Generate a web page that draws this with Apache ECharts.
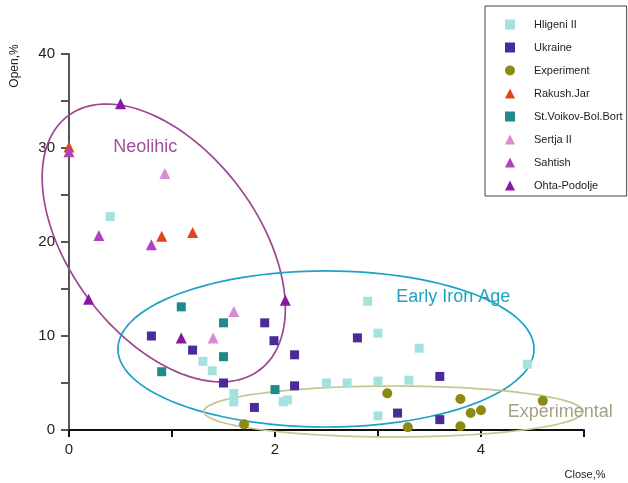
<!DOCTYPE html>
<html><head><meta charset="utf-8">
<script src="https://cdn.jsdelivr.net/npm/echarts@6/dist/echarts.min.js"></script>
<style>html,body{margin:0;padding:0;background:#fff}#c{width:628px;height:483px}</style>
</head><body><div id="c"></div>
<script>
// ---- data ----
const seriesNames = ['Hligeni II','Ukraine','Experiment','Rakush.Jar','St.Voikov-Bol.Bort','Sertja II','Sahtish','Ohta-Podolje'];
const hligeni = [[0.40,22.7],[1.30,7.3],[1.39,6.3],[1.60,3.9],[1.60,3.0],[2.08,3.0],[2.12,3.2],[2.50,5.0],[2.70,5.0],[2.90,13.7],[3.00,10.3],[3.00,5.2],[3.00,1.5],[3.30,5.3],[3.40,8.7],[4.45,7.0]];
const ukraine = [[0.80,10.0],[1.20,8.5],[1.50,5.0],[1.80,2.4],[1.90,11.4],[1.99,9.5],[2.19,8.0],[2.19,4.7],[2.80,9.8],[3.19,1.8],[3.60,5.7],[3.60,1.1]];
const experiment = [[1.70,0.6],[3.09,3.9],[3.29,0.3],[3.80,3.3],[3.80,0.4],[3.90,1.8],[4.00,2.1],[4.60,3.1]];
const rakush = [[0.00,30.1],[0.90,20.6],[1.20,21.0]];
const voikov = [[0.90,6.2],[1.09,13.1],[1.50,11.4],[1.50,7.8],[2.00,4.3]];
const sertja = [[0.93,27.3],[1.40,9.8],[1.60,12.6]];
const sahtish = [[0.00,29.6],[0.29,20.7],[0.80,19.7]];
const ohta = [[0.50,34.7],[0.19,13.9],[1.09,9.8],[2.10,13.8]];
const seriesData = [hligeni, ukraine, experiment, rakush, voikov, sertja, sahtish, ohta];

const xTicks = [0,1,2,3,4,5];
const yTicks = [0,5,10,15,20,25,30,35,40];

// grouping ellipses (data units): centre, two half-axis vectors, label anchor
const regionNames = ['Neolihic','Early Iron Age','Experimental'];
const regionCenters = [[0.92,19.9],[2.495,8.62],[3.15,1.97]];
const regionAxisU = [[0.92,-13.6],[2.02,0],[1.84,0]];
const regionAxisV = [[-0.74,-5.8],[0,8.3],[0,2.71]];
const regionLabelAt = [[0.74,30.1],[3.73,14.1],[4.77,1.9]];

// ---- styles ----
const symbols = ['rect','rect','circle','triangle','rect','triangle','triangle','triangle'];
const sizes = [9,9,10,11,9,11,11,11];
const colors = ['#a3e2df','#4b2b9c','#8c8a12','#e0441a','#1f8a8a','#d98bd8','#b042c0','#8a16a8'];
const regionColors = ['#9c4890','#1ea2c6','#c6c690'];
const regionTextColors = ['#a0509c','#22a2c2','#a2a284'];

const chart = echarts.init(document.getElementById('c'), null, {renderer:'canvas'});
const FONT = 'Liberation Sans, Arial, sans-serif';

const series = seriesNames.map((n,i)=>({
  name:n, type:'scatter', data:seriesData[i], symbol:symbols[i], symbolSize:sizes[i],
  itemStyle:{color:colors[i], opacity:1}, z:3
}));

series.unshift({
  type:'custom', name:'regions', z:2, silent:true,
  data: regionCenters.map((c,i)=>[c[0],c[1],i]),
  renderItem:function(params, api){
    const i = params.dataIndex;
    const c = regionCenters[i], u = regionAxisU[i], v = regionAxisV[i];
    const pts = [];
    const N = 120;
    for(let k=0;k<N;k++){
      const t = 2*Math.PI*k/N;
      pts.push(api.coord([c[0]+Math.cos(t)*u[0]+Math.sin(t)*v[0], c[1]+Math.cos(t)*u[1]+Math.sin(t)*v[1]]));
    }
    const lp = api.coord(regionLabelAt[i]);
    return {type:'group', children:[
      {type:'polygon', shape:{points:pts}, style:{fill:'none', stroke:regionColors[i], lineWidth:1.7}},
      {type:'text', x:lp[0], y:lp[1], style:{text:regionNames[i], fill:regionTextColors[i], font:'18px '+FONT, align:'center', verticalAlign:'middle'}}
    ]};
  }
});

chart.setOption({
  animation:false,
  backgroundColor:'#fff',
  grid:{left:69, right:44, top:54, bottom:53, containLabel:false},
  xAxis:{type:'value', min:xTicks[0], max:xTicks[xTicks.length-1], interval:1,
    axisLine:{onZero:false, lineStyle:{color:'#111', width:2}},
    axisTick:{length:7, lineStyle:{color:'#111', width:2}},
    axisLabel:{formatter:v=>(v%2===0?String(v):''), fontSize:15, color:'#222', fontFamily:FONT, margin:12},
    splitLine:{show:false}},
  yAxis:{type:'value', min:yTicks[0], max:yTicks[yTicks.length-1], interval:5,
    axisLine:{show:true, onZero:false, lineStyle:{color:'#555', width:2}},
    axisTick:{show:true, length:8, lineStyle:{color:'#555', width:2}},
    axisLabel:{formatter:v=>(v%10===0?String(v):''), fontSize:15, color:'#222', fontFamily:FONT, margin:14},
    splitLine:{show:false}},
  legend:{data:seriesNames, orient:'vertical', left:485, top:6, itemWidth:10, itemHeight:10, itemGap:12,
    padding:[13,4,5,20], borderColor:'#444', borderWidth:1,
    textStyle:{fontSize:11, color:'#222', fontFamily:FONT, padding:[0,0,0,14]}},
  graphic:[
    {type:'text', x:15, y:66, rotation:Math.PI/2, style:{text:'Open,%', font:'12px '+FONT, fill:'#222', align:'center', verticalAlign:'middle'}},
    {type:'text', x:585, y:475, style:{text:'Close,%', font:'11px '+FONT, fill:'#222', align:'center', verticalAlign:'middle'}}
  ],
  series:series
});
</script></body></html>
